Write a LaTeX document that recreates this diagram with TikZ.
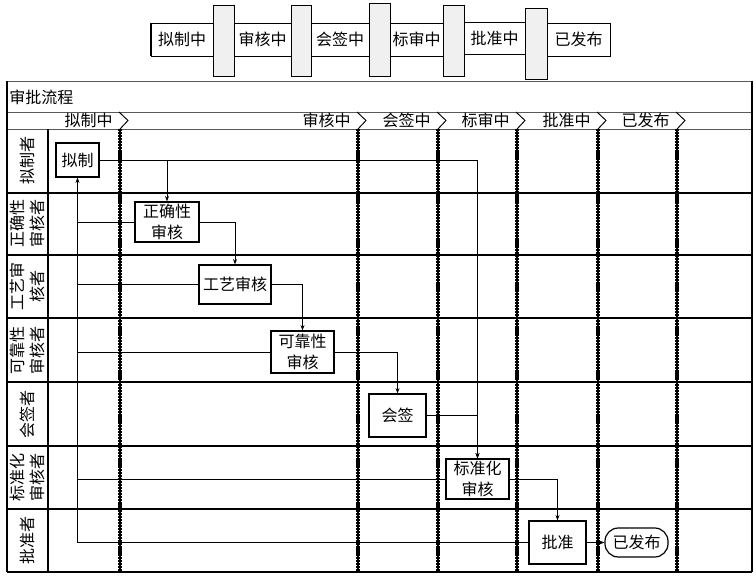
\documentclass[tikz,border=0pt]{standalone}
\usepackage{fontspec}
\setmainfont{Noto Sans CJK SC}
\usetikzlibrary{arrows.meta}
\begin{document}
\begin{tikzpicture}[x=0.75pt,y=-0.75pt,
  every node/.style={font=\fontsize{12}{15.5}\selectfont, inner sep=0pt},
  statebox/.style={draw, line width=0.6pt, fill=white, minimum height=24.75pt, anchor=center},
  gatebox/.style={draw, line width=0.6pt, fill=gray!12, anchor=center},
  procbox/.style={draw, line width=0.9pt, fill=white, align=center, anchor=center},
  endbox/.style={draw, line width=0.9pt, fill=white, rounded corners=10pt, anchor=center},
  lanelabel/.style={rotate=90, align=center, anchor=center},
  phaselabel/.style={anchor=east},
  gridline/.style={line width=0.8pt, black},
  thinline/.style={line width=0.6pt, gray!70!black},
  phaseline/.style={line width=2.4pt, dash pattern=on 1.6pt off 0.6pt},
  phasecore/.style={line width=1.1pt},
  chev/.style={line width=0.7pt},
  flow/.style={line width=0.6pt, -{Stealth[length=4pt,width=3pt]}},
  fback/.style={line width=0.6pt}
]
\useasboundingbox (0,0) rectangle (756,577);

% ---------- top state bar ----------
\node[statebox, minimum width=46.5pt] (s1) at (182,39.5) {拟制中};
\node[statebox, minimum width=42.75pt] (s2) at (262.5,39.5) {审核中};
\node[statebox, minimum width=43.5pt] (s3) at (340,39.5) {会签中};
\node[statebox, minimum width=39.75pt] (s4) at (416.5,39.5) {标审中};
\node[statebox, minimum width=45.75pt, minimum height=24pt] (s5) at (494.5,38) {批准中};
\node[statebox, minimum width=47.25pt] (s6) at (578.5,39.5) {已发布};
\draw[line width=1.4pt] (s1.north west) -- (s1.south west);

\node[gatebox, minimum width=15.75pt, minimum height=53.25pt] (g1) at (223.5,40.5) {};
\node[gatebox, minimum width=15pt, minimum height=53.25pt] (g2) at (301,40.5) {};
\node[gatebox, minimum width=15.75pt, minimum height=54.75pt] (g3) at (379.5,39.5) {};
\node[gatebox, minimum width=15.75pt, minimum height=53.25pt] (g4) at (453.5,40.5) {};
\node[gatebox, minimum width=16.5pt, minimum height=53.25pt] (g5) at (536,43.5) {};
\foreach \g in {g1,g2,g3,g4,g5}{
  \draw[line width=1.3pt] (\g.north east) -- (\g.south east) -- (\g.south west);
}

% ---------- table frame ----------
\draw[thinline] (7,81) -- (752,81);
\draw[thinline] (7,112) -- (752,112);
\draw[thinline] (7,129) -- (752,129);
\draw[line width=1.2pt] (7,81) -- (7,572);
\draw[line width=1.1pt] (752,81) -- (752,572);
\draw[line width=1.2pt] (7,572) -- (752,572);
\foreach \yy in {193,255,318,382,446,509}{
  \draw[gridline] (7,\yy) -- (752,\yy);
}
\draw[gridline] (48,129) -- (48,572);

\node[anchor=west] (title) at (9,97) {审批流程};

% ---------- phase header ----------
\foreach \xx/\lab/\nm in {120/拟制中/p1, 358/审核中/p2, 438/会签中/p3, 517/标审中/p4, 598/批准中/p5, 677/已发布/p6}{
  \draw[chev] (\xx-1,112) -- (\xx+8,120.5) -- (\xx,129);
  \node[phaselabel] (\nm) at (\xx-7,120.5) {\lab};
  \draw[phaseline] (\xx,129) -- (\xx,572);
  \draw[phasecore] (\xx,129) -- (\xx,572);
}

% ---------- lane labels ----------
\node[lanelabel] (l1) at (27.5,161) {拟制者};
\node[lanelabel] (l2) at (27.5,224) {正确性\\审核者};
\node[lanelabel] (l3) at (27.5,286.5) {工艺审\\核者};
\node[lanelabel] (l4) at (27.5,350) {可靠性\\审核者};
\node[lanelabel] (l5) at (27.5,414) {会签者};
\node[lanelabel] (l6) at (27.5,477.5) {标准化\\审核者};
\node[lanelabel] (l7) at (27.5,540.5) {批准者};

% ---------- process boxes ----------
\node[procbox, minimum width=32.25pt, minimum height=25.5pt] (nz) at (77.5,160) {拟制};
\node[procbox, minimum width=48pt, minimum height=30pt] (zq) at (167,222) {正确性\\审核};
\node[procbox, minimum width=54pt, minimum height=29.25pt] (gy) at (235,284.5) {工艺审核};
\node[procbox, minimum width=47.25pt, minimum height=31.5pt] (kk) at (302.5,352) {可靠性\\审核};
\node[procbox, minimum width=42.75pt, minimum height=32.25pt] (hq) at (397.5,415.5) {会签};
\node[procbox, minimum width=47.25pt, minimum height=30pt] (bz) at (477.5,479) {标准化\\审核};
\node[procbox, minimum width=42.75pt, minimum height=32.25pt] (pz) at (557.5,542.5) {批准};
\node[endbox, minimum width=47.25pt, minimum height=21.75pt] (fb) at (636.5,542.5) {已发布};

% ---------- forward flow ----------
\draw[flow] (nz.east) -| (zq.north);
\draw[flow] (nz.east) -| (bz.north);
\draw[flow] (zq.east) -| (gy.north);
\draw[flow] (gy.east) -| (kk.north);
\draw[flow] (kk.east) -| (hq.north);
\draw[flow] (hq.east) -| (bz.north);
\draw[flow] (bz.east) -| (pz.north);
\draw[flow] (pz.east) -- (fb.west);

% ---------- feedback ----------
\draw[flow] (pz.west) -| (nz.south);
\draw[fback] (zq.west) -- (zq.west -| nz.south);
\draw[fback] (gy.west) -- (gy.west -| nz.south);
\draw[fback] (kk.west) -- (kk.west -| nz.south);
\draw[fback] (bz.west) -- (bz.west -| nz.south);
\end{tikzpicture}
\end{document}
